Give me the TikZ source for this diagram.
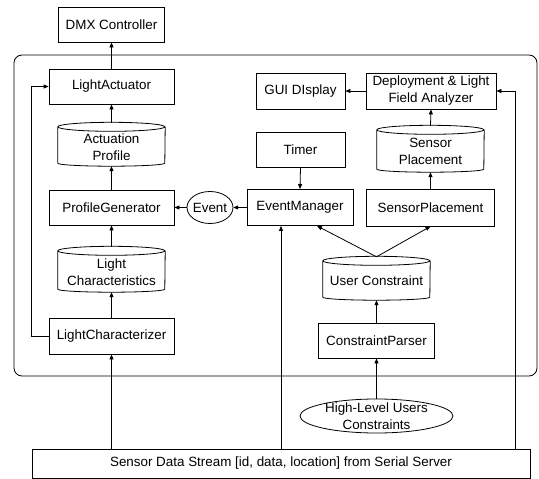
\documentclass[tikz,border=0pt]{standalone}
\usepackage{fontspec}
\setmainfont{Liberation Sans}
\usetikzlibrary{arrows.meta}
\tikzset{
  ln/.style={line width=0.8pt, draw=black},
  box/.style={ln, draw, rectangle, inner sep=0pt, align=center},
  txt/.style={inner sep=0pt, align=center},
  arr/.style={ln, -{Triangle[length=5pt,width=4pt]}},
}
\newcommand\drawcyl[2]{\draw[ln] ([yshift=-4pt]#1.north west) arc[start angle=180,end angle=540,x radius=53.5pt,y radius=4.5pt] -- ([yshift=3pt]#1.south west) arc[start angle=180,end angle=360,x radius=53.5pt,y radius=3pt] -- ([yshift=-4pt]#1.north east);
\node[txt] at ([yshift=-2.5pt]#1.center) {#2};}
\begin{document}
\begin{tikzpicture}[x=1pt,y=-1pt,font=\fontsize{13.4}{17}\selectfont]
\useasboundingbox (0,0) rectangle (539,479);
\node[box, rounded corners=8pt, minimum width=523, minimum height=321] (frame) at (275.5,215.5) {};
\node[box, minimum width=106, minimum height=35] (dmx) at (111.5,24.5) {DMX Controller};
\node[box, minimum width=125, minimum height=35] (la) at (111.5,86.5) {LightActuator};
\node[txt, minimum width=107, minimum height=43] (ap) at (111.5,144.5) {};
\drawcyl{ap}{Actuation\\Profile}
\node[box, minimum width=125, minimum height=35] (pg) at (111.5,207.5) {ProfileGenerator};
\node[txt, minimum width=107, minimum height=45] (lc) at (111.5,269.5) {};
\drawcyl{lc}{Light\\Characteristics}
\node[box, minimum width=125, minimum height=36] (lcz) at (111.5,336) {LightCharacterizer};
\node[txt, minimum width=46, minimum height=32] (ev) at (210,207.5) {Event};
\draw[ln] (ev) ellipse [x radius=23pt, y radius=16pt];
\node[box, minimum width=106, minimum height=36] (em) at (300,207.5) {EventManager};
\node[box, minimum width=89, minimum height=35] (timer) at (300.5,149.5) {Timer};
\node[box, minimum width=89, minimum height=36] (gui) at (300.5,91) {GUI DIsplay};
\node[box, minimum width=130, minimum height=36] (dep) at (431,91) {Deployment \& Light\\Field Analyzer};
\node[txt, minimum width=107, minimum height=46] (sp) at (430.5,149) {};
\drawcyl{sp}{Sensor\\Placement}
\node[box, minimum width=128, minimum height=37] (spb) at (430.5,207.5) {SensorPlacement};
\node[txt, minimum width=107, minimum height=43] (uc) at (376.5,278.5) {};
\drawcyl{uc}{User Constraint}
\node[box, minimum width=116, minimum height=35] (cp) at (376.5,340.5) {ConstraintParser};
\node[txt, minimum width=153, minimum height=34] (hl) at (376.5,416) {High-Level Users\\Constraints};
\draw[ln] (hl) ellipse [x radius=76.5pt, y radius=17pt];
\node[box, minimum width=498, minimum height=29] (sds) at (281,463.5) {Sensor Data Stream [id, data, location] from Serial Server};
% arrows
\draw[arr] (la.north) -- (dmx.south);
\draw[arr] (ap.north) -- (la.south);
\draw[arr] (pg.north) -- (ap.south);
\draw[arr] (lc.north) -- (pg.south);
\draw[arr] (lcz.north) -- (lc.south);
\draw[arr] (sds.north -| lcz.south) -- (lcz.south);
\draw[arr] (lcz.west) -- ++(-17,0) |- (la.west);
\draw[arr] (em.west) -- (ev.west -| ev.east);
\draw[arr] (ev.west) -- (pg.east);
\draw[arr] (timer.south) -- (em.north);
\draw[arr] ([xshift=-19pt]em.south |- sds.north) -- ([xshift=-19pt]em.south);
\draw[arr] (uc.north) -- ([xshift=17pt]em.south);
\draw[arr] (uc.north) -- (spb.south);
\draw[arr] (spb.north) -- (sp.south);
\draw[arr] (sp.north) -- (dep.south);
\draw[arr] (dep.west) -- (gui.east);
\draw[arr] ([xshift=-15pt]sds.north east) |- (dep.east);
\draw[arr] (cp.north) -- (uc.south);
\draw[arr] (hl.north) -- (cp.south);
\end{tikzpicture}
\end{document}
